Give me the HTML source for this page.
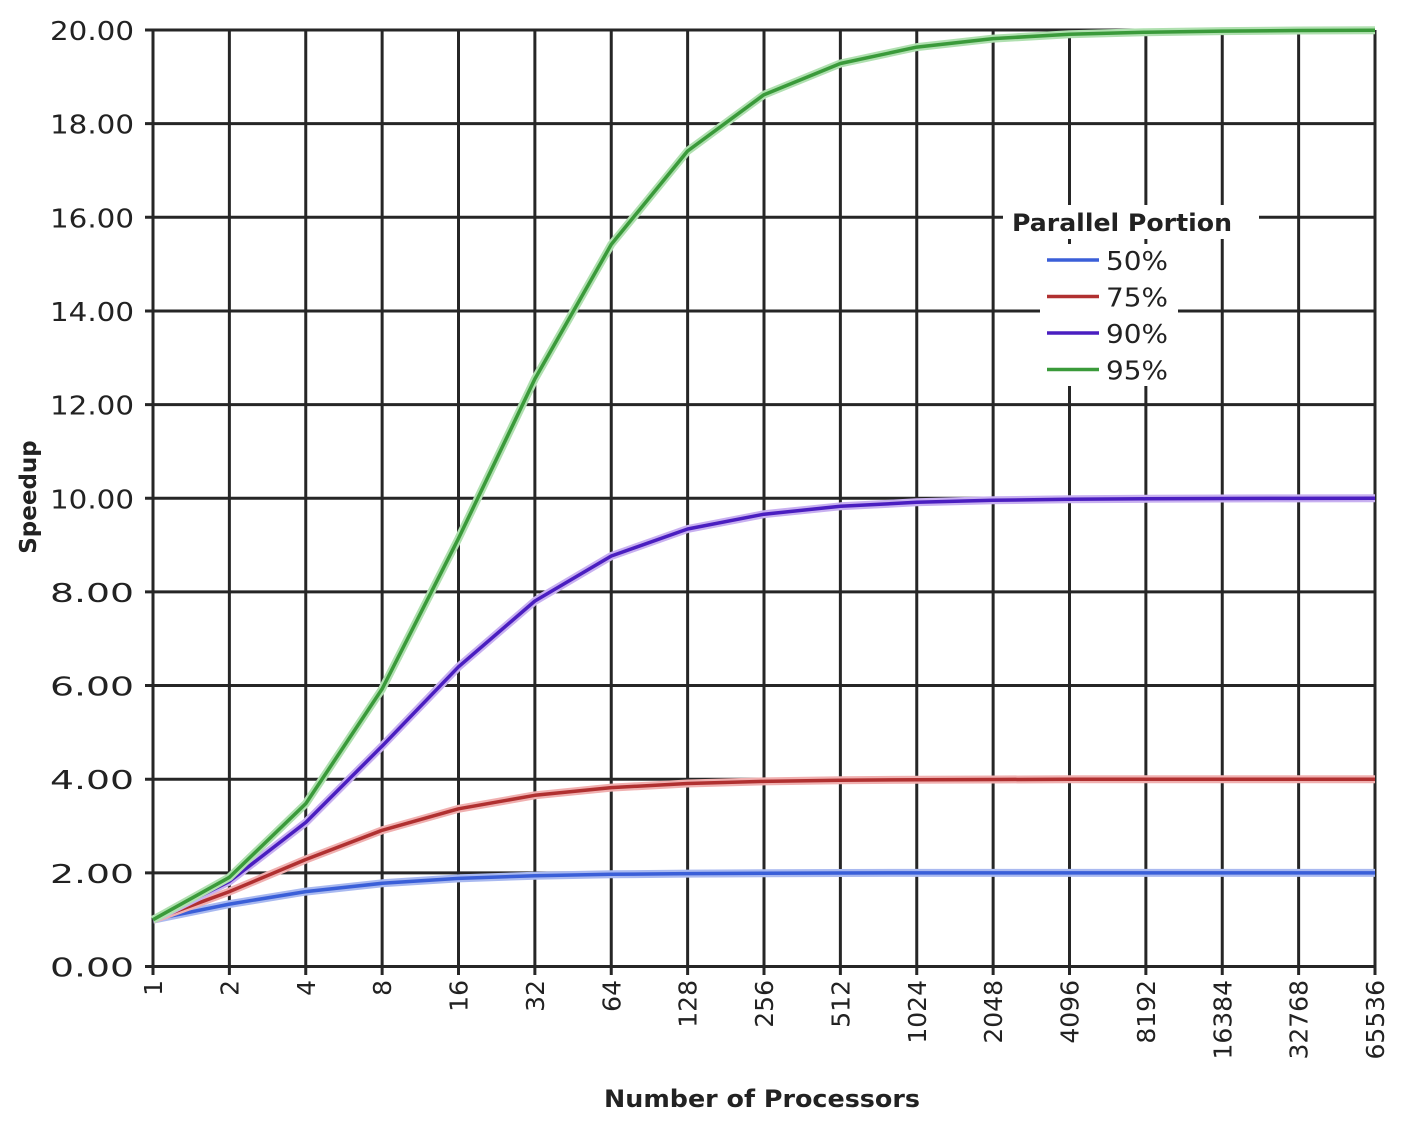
<!DOCTYPE html>
<html><head><meta charset="utf-8"><style>
body{margin:0;background:#fff;}
svg{display:block;}
text{font-family:"DejaVu Sans","Liberation Sans",sans-serif;fill:#222;}
</style></head><body>
<svg id="s" width="1402" height="1134" viewBox="0 0 1402 1134" xmlns="http://www.w3.org/2000/svg"></svg>
<script>
const s=document.getElementById('s');
const X0=153,DX=(1375-153)/16,Y0=966.5,DY=(966.5-30)/20;
let h='';
for(let i=0;i<=16;i++){const x=X0+i*DX;h+=`<line x1="${x}" y1="30" x2="${x}" y2="975" stroke="#262626" stroke-width="3"/>`;
 const n=Math.pow(2,i);h+=`<text transform="translate(${x+9},${980}) rotate(-90)" font-size="25" text-anchor="end">${n}</text>`;}
for(let j=0;j<=10;j++){const y=Y0-j*2*DY;h+=`<line x1="145" y1="${y}" x2="1375" y2="${y}" stroke="#262626" stroke-width="3"/>`;
 h+=`<text x="134" y="${y+10}" font-size="26" text-anchor="end" textLength="84" lengthAdjust="spacingAndGlyphs">${(j*2).toFixed(2)}</text>`;}
const ser=[[0.5,'#3a5fd8','#a9b9f0'],[0.75,'#b03030','#f0b0b0'],[0.9,'#4a1ec0','#c8b0f0'],[0.95,'#3a9a3a','#b0e0b0']];
for(const [p,c,l] of ser){let pts=[];for(let i=0;i<=16;i++){const n=Math.pow(2,i);const v=1/((1-p)+p/n);pts.push((X0+i*DX).toFixed(1)+','+(Y0-v*DY).toFixed(1));}
 h+=`<polyline points="${pts.join(' ')}" fill="none" stroke="${l}" stroke-width="8" stroke-linejoin="round"/>`;
 h+=`<polyline points="${pts.join(' ')}" fill="none" stroke="${c}" stroke-width="3.5" stroke-linejoin="round"/>`;}
h+=`<rect x="1003" y="205" width="256" height="34" fill="#fff"/><rect x="1040" y="244" width="138" height="142" fill="#fff"/>`;
h+=`<text x="1122" y="231" font-size="24" font-weight="bold" text-anchor="middle" textLength="220" lengthAdjust="spacingAndGlyphs">Parallel Portion</text>`;
ser.forEach(([p,c],k)=>{const y=260+k*36.5;h+=`<line x1="1047" y1="${y}" x2="1099" y2="${y}" stroke="${c}" stroke-width="3.5"/><text x="1106" y="${y+10}" font-size="26" fill="#444" textLength="62" lengthAdjust="spacingAndGlyphs">${p*100}%</text>`;});
h+=`<text x="762" y="1107" font-size="24" font-weight="bold" text-anchor="middle" textLength="316" lengthAdjust="spacingAndGlyphs">Number of Processors</text>`;
h+=`<text transform="translate(36,497) rotate(-90)" font-size="23" font-weight="bold" text-anchor="middle">Speedup</text>`;
s.innerHTML=h;
</script>
</body></html>
